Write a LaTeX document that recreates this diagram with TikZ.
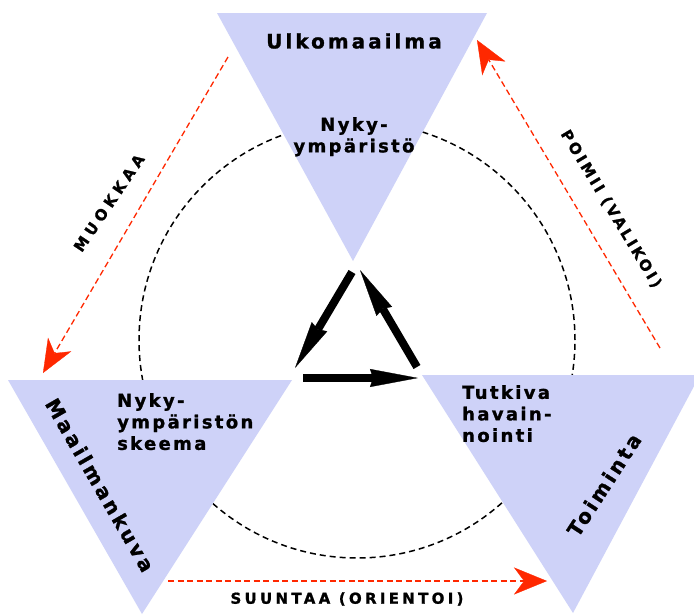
\documentclass[tikz,border=0pt]{standalone}
\usepackage{fontspec}
\setmainfont{DejaVu Sans}
\newfontfamily\lblfont{DejaVu Sans}[FakeBold=1.2]
\usetikzlibrary{arrows.meta}
\definecolor{trifill}{RGB}{206,210,248}
\definecolor{redarr}{RGB}{255,40,0}
\tikzset{
  triangle/.style={fill=trifill, draw=none},
  bigtext/.style={font=\lblfont\bfseries\fontsize{20}{24}\selectfont\addfontfeature{LetterSpace=15}, inner sep=0pt},
  innertext/.style={font=\lblfont\bfseries\fontsize{18}{21.5}\selectfont\addfontfeature{LetterSpace=13}, inner sep=0pt},
  smalltext/.style={font=\lblfont\bfseries\fontsize{15}{16}\selectfont\addfontfeature{LetterSpace=#1}, inner sep=0pt},
  redlink/.style={draw=redarr, line width=1.3pt, dash pattern=on 6pt off 3.5pt,
    -{Stealth[length=33pt,width=27pt,inset=10pt,line width=0.3pt,fill=redarr,color=redarr]}},
  cyclearrow/.style={draw=black, line width=8pt,
    -{Stealth[length=48pt,width=18pt,inset=3pt,line width=0.3pt]}},
  dashcircle/.style={draw=black, line width=1.5pt, dash pattern=on 6pt off 4pt}
}
\begin{document}
\begin{tikzpicture}[x=1pt,y=-1pt]
\useasboundingbox (0,0) rectangle (694,616);
\clip (0,0) rectangle (694,616);
\fill[white] (0,0) rectangle (694,616);
% dashed circle (behind triangles)
\coordinate (center) at (357,340);
\draw[dashcircle] (center) circle[radius=218pt];
% triangles
\coordinate (t1) at (217,13);  \coordinate (t2) at (487,13);  \coordinate (t3) at (353,261);
\coordinate (l1) at (8,380);   \coordinate (l2) at (292,380); \coordinate (l3) at (142,614);
\coordinate (r1) at (422,375); \coordinate (r2) at (700,375); \coordinate (r3) at (573,613);
\fill[triangle] (t1) -- (t2) -- (t3) -- cycle;
\fill[triangle] (l1) -- (l2) -- (l3) -- cycle;
\fill[triangle] (r1) -- (r2) -- (r3) -- cycle;
% labels
\node[bigtext] (ulko) at (354,41) {Ulkomaailma};
\node[innertext, align=center, anchor=north] (nyky) at (354,117) {Nyky-\\ympäristö};
\node[innertext, align=left, anchor=north west] (skeema) at (117,393) {Nyky-\\ympäristön\\skeema};
\node[innertext, align=left, anchor=north west] (tutkiva) at (462,385) {Tutkiva\\havain-\\nointi};
\node[bigtext, rotate=-60] (maailma) at (100,485) {Maailmankuva};
\node[bigtext, rotate=57] (toiminta) at (604,485) {Toiminta};
% central cycle arrows
\coordinate (a1s) at (352,272); \coordinate (a1e) at (295,368);
\coordinate (a2s) at (417,367); \coordinate (a2e) at (360,270);
\coordinate (a3s) at (303,378); \coordinate (a3e) at (418,378);
\draw[cyclearrow] (a1s) -- (a1e);
\draw[cyclearrow] (a2s) -- (a2e);
\draw[cyclearrow] (a3s) -- (a3e);
% red links
\coordinate (m1) at (228,57);  \coordinate (m2) at (43,373);
\coordinate (p1) at (660,348); \coordinate (p2) at (477,40);
\coordinate (s1) at (168,581); \coordinate (s2) at (547,581);
\draw[redlink] (m1) -- (m2);
\draw[redlink] (p1) -- (p2);
\draw[redlink] (s1) -- (s2);
\node[smalltext=30, rotate=56] (muokkaa) at (109,203) {MUOKKAA};
\node[smalltext=19, rotate=-59] (poimii) at (611,209) {POIMII (VALIKOI)};
\node[smalltext=22] (suuntaa) at (347,599) {SUUNTAA (ORIENTOI)};
\end{tikzpicture}
\end{document}
